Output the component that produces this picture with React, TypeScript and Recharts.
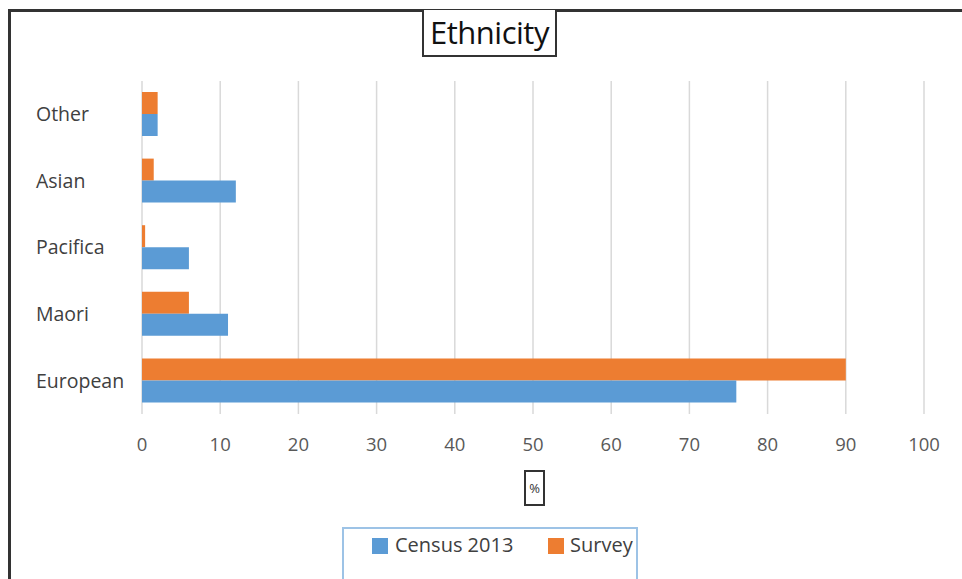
import { BarChart, Bar, XAxis, YAxis, CartesianGrid } from 'recharts'

const categories = ['Other', 'Asian', 'Pacifica', 'Maori', 'European']
const census2013 = [2, 12, 6, 11, 76]
const survey = [2, 1.5, 0.4, 6, 90]
const xTicks = [0, 10, 20, 30, 40, 50, 60, 70, 80, 90, 100]

const BLUE = '#5b9bd5'
const ORANGE = '#ed7d31'
const FONT = '"Open Sans", sans-serif'

const chartData = categories.map((name, i) => ({
  name,
  census: census2013[i],
  survey: survey[i],
}))

function CategoryTick({ y, payload }: any) {
  return (
    <text x={36} y={y} dy='0.35em' textAnchor='start' fontSize={19.5} fill='#404040' fontFamily={FONT}>
      {payload.value}
    </text>
  )
}

export default function App() {
  return (
    <div style={{ position: 'absolute', left: 0, top: 0, width: 962, height: 579, background: '#fff', overflow: 'hidden', fontFamily: FONT }}>
      <div style={{ position: 'absolute', left: 8, top: 9, right: 0, bottom: 0, borderTop: '3px solid #333', borderLeft: '3px solid #333' }} />
      <BarChart
        width={962}
        height={579}
        data={chartData}
        layout='vertical'
        margin={{ top: 81, right: 38, bottom: 125, left: 0 }}
        barGap={0}
        style={{ position: 'absolute', left: 0, top: 0 }}
      >
        <CartesianGrid horizontal={false} stroke='#d9d9d9' strokeWidth={1.5} />
        <XAxis
          type='number'
          domain={[0, 100]}
          ticks={xTicks}
          tickLine={false}
          axisLine={false}
          tickMargin={18}
          height={40}
          fontSize={18.5}
          fontFamily={FONT}
          tick={{ fill: '#595959' }}
        />
        <YAxis
          type='category'
          dataKey='name'
          width={142}
          tickLine={false}
          axisLine={false}
          tick={<CategoryTick />}
        />
        <Bar dataKey='survey' name='Survey' fill={ORANGE} barSize={22} isAnimationActive={false} />
        <Bar dataKey='census' name='Census 2013' fill={BLUE} barSize={22} isAnimationActive={false} />
      </BarChart>
      <div style={{ position: 'absolute', left: 422, top: 10, width: 131, height: 45, border: '2px solid #333', borderTop: 'none', fontSize: 31, lineHeight: '45px', color: '#111', textAlign: 'center', overflow: 'hidden', background: '#fff', letterSpacing: -0.5 }}>
        Ethnicity
      </div>
      <div style={{ position: 'absolute', left: 524, top: 470, width: 17, height: 32, border: '2px solid #333', fontSize: 13, lineHeight: '32px', color: '#333', textAlign: 'center' }}>
        %
      </div>
      <div style={{ position: 'absolute', left: 342, top: 527, width: 292, height: 80, border: '2px solid #9dc3e6', overflow: 'hidden' }}>
        <div style={{ position: 'absolute', left: 28, top: 9, width: 16, height: 16, background: BLUE }} />
        <div style={{ position: 'absolute', left: 51, top: 2, fontSize: 20, color: '#404040', whiteSpace: 'nowrap' }}>Census 2013</div>
        <div style={{ position: 'absolute', left: 204, top: 9, width: 16, height: 16, background: ORANGE }} />
        <div style={{ position: 'absolute', left: 226, top: 2, fontSize: 20, color: '#404040', whiteSpace: 'nowrap' }}>Survey</div>
      </div>
    </div>
  )
}
